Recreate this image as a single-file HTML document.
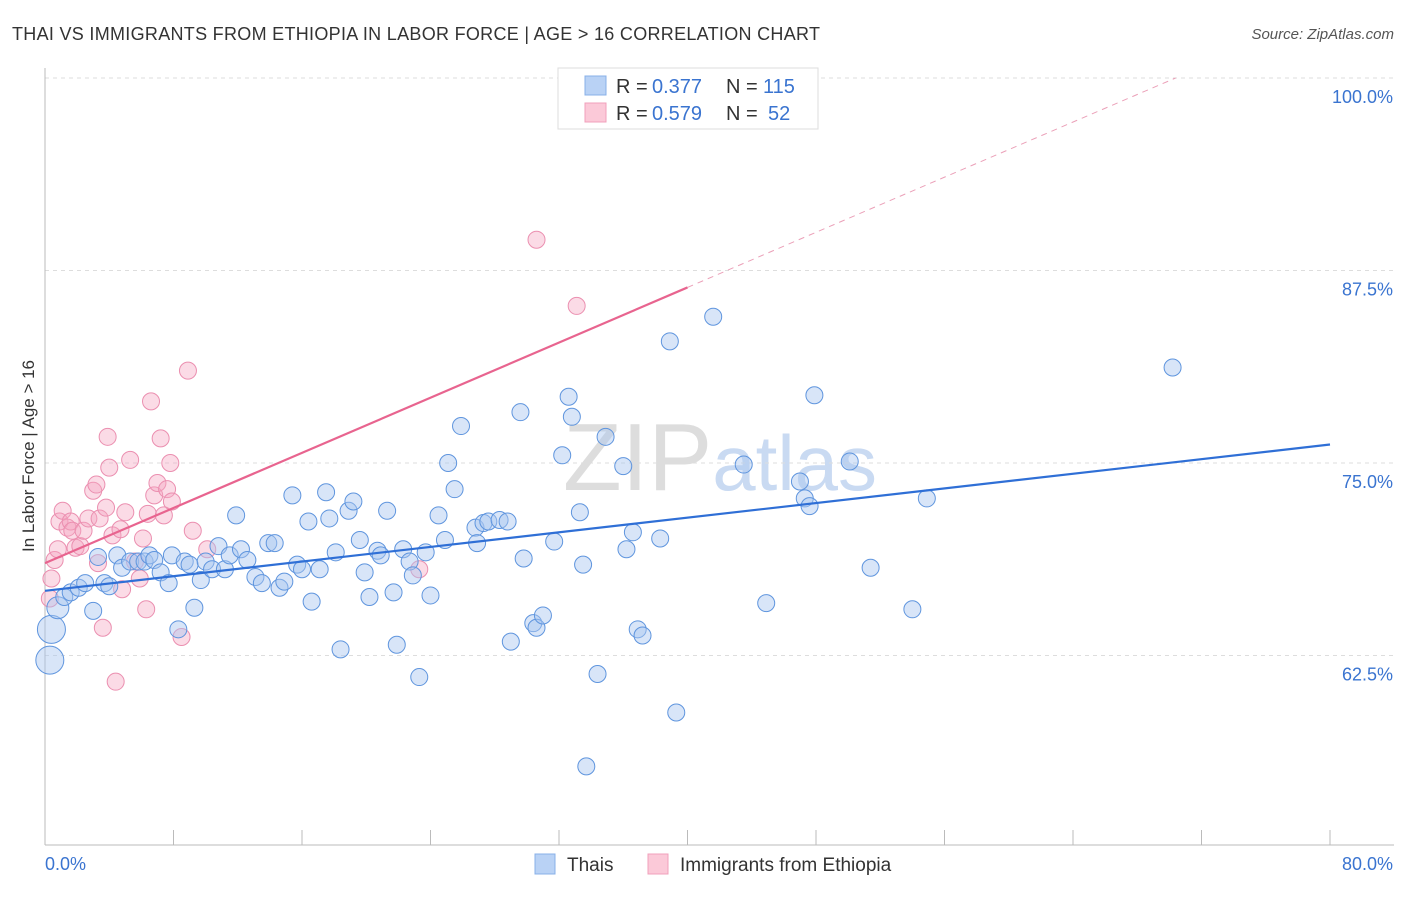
<!DOCTYPE html>
<html><head><meta charset="utf-8"><style>
body{margin:0;background:#fff;font-family:"Liberation Sans",sans-serif;}
svg text{font-family:"Liberation Sans",sans-serif;}
</style></head><body>
<svg id="chart" width="1406" height="892" xmlns="http://www.w3.org/2000/svg">
<text x="12" y="40" font-size="18" fill="#333" textLength="808">THAI VS IMMIGRANTS FROM ETHIOPIA IN LABOR FORCE | AGE &gt; 16 CORRELATION CHART</text>
<text x="1394" y="39" font-size="15" fill="#555" font-style="italic" text-anchor="end">Source: ZipAtlas.com</text>
<text x="720" y="490" font-size="96" fill="#ddd" text-anchor="middle" font-family="Liberation Serif">ZIP<tspan fill="#c9daf2" font-family="Liberation Sans" font-size="78">atlas</tspan></text>
<text transform="translate(34,456) rotate(-90)" font-size="17" fill="#333" text-anchor="middle">In Labor Force | Age &gt; 16</text>
<g id="grid"></g><g id="pts"></g><g id="trend"></g>
<g>
<rect x="558" y="68" width="260" height="61" fill="#fff" stroke="#ddd"/>
<rect x="585" y="76" width="21" height="19" fill="#b9d2f5" stroke="#88b0e8"/>
<rect x="585" y="103" width="21" height="19" fill="#fbc9d8" stroke="#f0a0bb"/>
<text x="616" y="93" font-size="20" fill="#333">R =</text>
<text x="652" y="93" font-size="20" fill="#3a74d0">0.377</text>
<text x="726" y="93" font-size="20" fill="#333">N =</text>
<text x="763" y="93" font-size="20" fill="#3a74d0">115</text>
<text x="616" y="120" font-size="20" fill="#333">R =</text>
<text x="652" y="120" font-size="20" fill="#3a74d0">0.579</text>
<text x="726" y="120" font-size="20" fill="#333">N =</text>
<text x="768" y="120" font-size="20" fill="#3a74d0">52</text>
</g>
<g>
<rect x="535" y="854" width="20" height="20" fill="#b9d2f5" stroke="#88b0e8"/>
<text x="567" y="871" font-size="19" fill="#333">Thais</text>
<rect x="648" y="854" width="20" height="20" fill="#fbc9d8" stroke="#f0a0bb"/>
<text x="680" y="871" font-size="19" fill="#333">Immigrants from Ethiopia</text>
</g>
</svg>
<script>
const yTicks=[100,87.5,75,62.5];
const yTickLabels=["100.0%","87.5%","75.0%","62.5%"];
const xTicks=[0,8,16,24,32,40,48,56,64,72,80];
const blueX=[0.3,0.4,0.8,1.2,1.6,2.1,2.5,3.0,3.3,3.7,4.0,4.5,4.8,5.3,5.8,6.2,6.5,6.8,7.2,7.7,7.9,8.3,8.7,9.0,9.3,9.7,10.0,10.4,10.8,11.2,11.5,11.9,12.2,12.6,13.1,13.5,13.9,14.3,14.6,14.9,15.4,15.7,16.0,16.4,16.6,17.1,17.5,17.7,18.1,18.4,18.9,19.2,19.6,19.9,20.2,20.7,20.9,21.3,21.7,21.9,22.3,22.7,22.9,23.3,23.7,24.0,24.5,24.9,25.1,25.5,25.9,26.8,26.9,27.3,27.6,28.3,28.8,29.0,29.6,29.8,30.4,30.6,31.0,31.7,32.2,32.6,32.8,33.3,33.5,33.7,34.4,34.9,36.0,36.2,36.6,36.9,37.2,38.3,38.9,39.3,41.6,43.5,44.9,47.0,47.3,47.6,47.9,50.1,51.4,54.0,54.9,70.2];
const blueY=[62.2,64.2,65.6,66.3,66.6,66.9,67.2,65.4,68.9,67.2,67.0,69.0,68.2,68.6,68.6,68.6,69.0,68.7,67.9,67.2,69.0,64.2,68.6,68.4,65.6,67.4,68.6,68.1,69.6,68.1,69.0,71.6,69.4,68.7,67.6,67.2,69.8,69.8,66.9,67.3,72.9,68.4,68.1,71.2,66.0,68.1,73.1,71.4,69.2,62.9,71.9,72.5,70.0,67.9,66.3,69.3,69.0,71.9,66.6,63.2,69.4,68.6,67.7,61.1,69.2,66.4,71.6,70.0,75.0,73.3,77.4,70.8,69.8,71.1,71.2,71.3,71.2,63.4,78.3,68.8,64.6,64.3,65.1,69.9,75.5,79.3,78.0,71.8,68.4,55.3,61.3,76.7,74.8,69.4,70.5,64.2,63.8,70.1,82.9,58.8,84.5,74.9,65.9,73.8,72.7,72.2,79.4,75.1,68.2,65.5,72.7,81.2];
const pinkX=[0.3,0.4,0.6,0.8,0.9,1.1,1.4,1.6,1.7,1.9,2.2,2.4,2.7,3.0,3.2,3.3,3.4,3.6,3.8,4.0,3.9,4.2,4.4,4.7,4.8,5.0,5.3,5.6,5.9,6.1,6.3,6.4,6.6,6.8,7.0,7.2,7.4,7.6,7.8,7.9,8.5,8.9,9.2,10.1,23.3,30.6,33.1];
const pinkY=[66.2,67.5,68.7,69.4,71.2,71.9,70.8,71.2,70.6,69.5,69.6,70.6,71.4,73.2,73.6,68.5,71.4,64.3,72.1,74.7,76.7,70.3,60.8,70.7,66.8,71.8,75.2,68.6,67.5,70.1,65.5,71.7,79.0,72.9,73.7,76.6,71.6,73.3,75.0,72.5,63.7,81.0,70.6,69.4,68.1,89.5,85.2];
const blueTrend=[66.7,76.2]; // y at x=0, x=80
const pinkTrend=[68.5,0.4475]; // intercept, slope
const X=v=>45+v/80*1285, Y=v=>78+(100-v)*15.4;
const NS="http://www.w3.org/2000/svg";
function mk(t,a,p){const e=document.createElementNS(NS,t);for(const k in a)e.setAttribute(k,a[k]);p.appendChild(e);return e;}
const grid=document.getElementById('grid');
yTicks.forEach((t,i)=>{
 const l=mk('line',{x1:45,x2:1394,y1:Y(t),y2:Y(t),stroke:'#ddd','stroke-dasharray':'4,4'},grid);
 
 
 const tx=mk('text',{x:1393,y:Y(t)+25,'font-size':18,fill:'#3a74d0','text-anchor':'end'},grid);tx.textContent=yTickLabels[i];
 
 
});
mk('line',{x1:45,x2:45,y1:68,y2:845,stroke:'#bbb'},grid);
mk('line',{x1:45,x2:1394,y1:845,y2:845,stroke:'#bbb'},grid);
xTicks.forEach(t=>{const l=mk('line',{x1:X(t),x2:X(t),y1:830,y2:845,stroke:'#bbb'},grid);
 
 });
const a=mk('text',{x:45,y:870,'font-size':18,fill:'#3a74d0'},grid);a.textContent='0.0%';
const b=mk('text',{x:1393,y:870,'font-size':18,fill:'#3a74d0','text-anchor':'end'},grid);b.textContent='80.0%';
const pts=document.getElementById('pts');
pinkX.forEach((x,i)=>{const c=mk('circle',{cx:X(x),cy:Y(pinkY[i]),r:8.5,fill:'rgba(244,166,192,0.4)',stroke:'#eb8fb0','stroke-width':1},pts);
 
 });
blueX.forEach((x,i)=>{const r=i<2?14:(i<3?11:8.5);const c=mk('circle',{cx:X(x),cy:Y(blueY[i]),r:r,fill:'rgba(169,198,240,0.45)',stroke:'#5f95de','stroke-width':1},pts);
 
 });
const tr=document.getElementById('trend');
const bl=mk('line',{x1:X(0),y1:Y(blueTrend[0]),x2:X(80),y2:Y(blueTrend[1]),stroke:'#2f6fd6','stroke-width':2.2},tr);


const pl=mk('line',{x1:X(0),y1:Y(pinkTrend[0]),x2:X(40),y2:Y(pinkTrend[0]+40*pinkTrend[1]),stroke:'#e8648f','stroke-width':2.2},tr);


const xe=(100-pinkTrend[0])/pinkTrend[1];
const pd=mk('line',{x1:X(40),y1:Y(pinkTrend[0]+40*pinkTrend[1]),x2:X(xe),y2:Y(100),stroke:'#eba0b8','stroke-width':1,'stroke-dasharray':'6,5'},tr);


</script>
</body></html>
